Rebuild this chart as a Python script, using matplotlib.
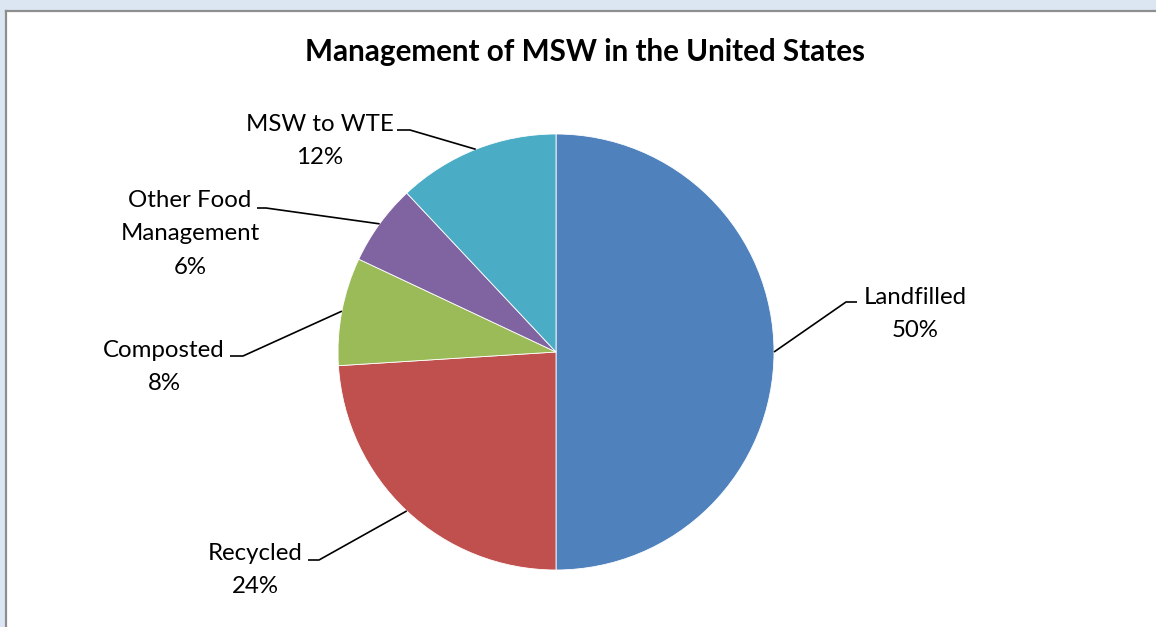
import matplotlib
matplotlib.use("Agg")
import matplotlib.pyplot as plt
from matplotlib.patches import Rectangle
from matplotlib.lines import Line2D
import numpy as np

categories = ["Landfilled", "Recycled", "Composted", "Other Food\nManagement", "MSW to WTE"]
values = [50, 24, 8, 6, 12]
colors = ["#4F81BD", "#C0504D", "#9BBB59", "#8064A2", "#4BACC6"]
title = "Management of MSW in the United States"

W, H = 1156, 627
fig = plt.figure(figsize=(W / 100, H / 100), dpi=100)
fig.patch.set_facecolor("white")
# window frame: light blue strips at top and left with gray edge
tf = fig.transFigure
fig.patches.append(Rectangle((0, 1 - 10 / H), 1, 10 / H, transform=tf,
                             facecolor="#DCE6F2", edgecolor="none", zorder=-5))
fig.patches.append(Rectangle((0, 0), 5 / W, 1, transform=tf,
                             facecolor="#DCE6F2", edgecolor="none", zorder=-5))
fig.lines.append(Line2D([6 / W, 1], [1 - 11 / H, 1 - 11 / H], transform=tf,
                        color="#8E8E8E", lw=1.6, zorder=-4))
fig.lines.append(Line2D([6 / W, 6 / W], [0, 1 - 11 / H], transform=tf,
                        color="#8E8E8E", lw=1.6, zorder=-4))

ax = fig.add_axes([0, 0, 1, 1])
ax.set_zorder(1)
ax.patch.set_visible(False)

cx, cy, r = 556, H - 352, 218
wedges, _ = ax.pie(values, colors=colors, startangle=90, counterclock=False,
                   center=(cx, cy), radius=r, frame=True,
                   wedgeprops=dict(edgecolor="white", linewidth=0.6))
ax.set_xlim(0, W)
ax.set_ylim(0, H)
ax.set_aspect("equal")
ax.axis("off")

# label layout: (elbow x, elbow y from top, horizontal end x, text center x, text center y from top)
layout = [
    (846, 302, 857, 915, 314),
    (319, 560, 308, 255, 570),
    (243, 356, 230, 164, 367),
    (266, 208, 257, 190, 234),
    (410, 130, 397, 320, 141),
]
fp = dict(family=["Lato", "DejaVu Sans"], fontsize=17.3, color="black")
for w, cat, val, (ex, ey, hx, tx, ty) in zip(wedges, categories, values, layout):
    mid = np.deg2rad((w.theta1 + w.theta2) / 2)
    px, py = cx + r * np.cos(mid), cy + r * np.sin(mid)
    ax.plot([px, ex, hx], [py, H - ey, H - ey], color="black", lw=1.2, solid_capstyle="butt")
    ax.text(tx, H - ty, f"{cat}\n{val}%", ha="center", va="center",
            linespacing=1.72, **fp)

ax.text(585, H - 52, title, ha="center", va="center", fontsize=21.3, fontweight="bold",
        family=["Lato", "DejaVu Sans"])

fig.savefig("out.png", dpi=100, facecolor=fig.get_facecolor())
